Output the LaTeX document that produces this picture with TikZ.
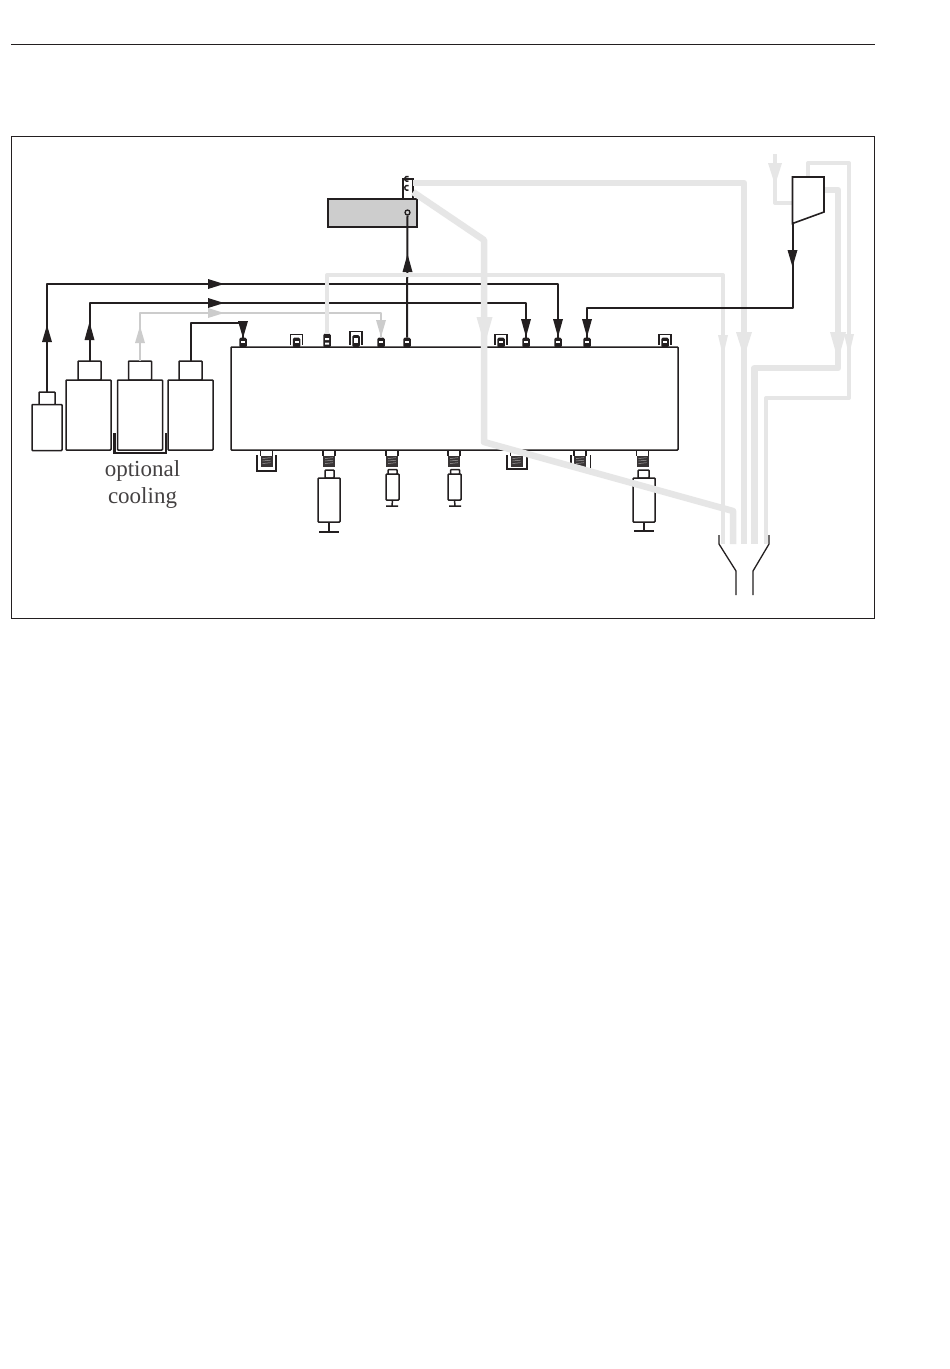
\documentclass[tikz,border=0pt]{standalone}
\usepackage{fontspec}
\setmainfont{Liberation Serif}
\definecolor{ink}{HTML}{231F20}
\definecolor{pale}{HTML}{E6E6E6}
\definecolor{midg}{HTML}{CCCCCC}
\definecolor{boxg}{HTML}{CDCDCD}
\tikzset{
  vessel/.style={draw=ink,line width=1.5pt,fill=white,rounded corners=.8pt,inner sep=0pt,outer sep=0pt},
  blk/.style={draw=ink,line width=2pt,line join=round},
  pipe/.style={draw=pale,line join=round},
  thinpipe/.style={pipe,line width=4pt},
  thickpipe/.style={pipe,line width=6.5pt},
  portblk/.style={fill=ink,rounded corners=1.5pt,minimum width=7.5pt,minimum height=10pt,inner sep=0pt,outer sep=0pt},
  springblk/.style={fill=ink!90!white,minimum width=12pt,minimum height=11pt,inner sep=0pt,outer sep=0pt},
  captiontext/.style={font=\fontsize{23}{23}\selectfont,text=ink!85!white,inner sep=0pt},
}
% tip x, tip y, direction (clockwise on the page), length, half width, colour
\newcommand{\arrowmark}[6]{\fill[#6,rotate around={-#3:(#1,#2)}] (#1,#2) -- ++(-#4,-#5) -- ++(0,2*#5) -- cycle;}
\newcommand{\topport}[2]{\node[portblk] (#1) at (#2,342.5) {};\fill[white] (#2-2,341) rectangle (#2+2,343);}
\newcommand{\ushape}[3]{\draw[ink,line width=1.6pt] (#1-#2,345) -- (#1-#2,#3) -- (#1+#2,#3) -- (#1+#2,345);}
\newcommand{\hatched}[1]{\foreach \d in {458.5,461,463.5}{\draw[white!60!ink,line width=.5pt] (#1-4,\d) -- (#1+4,\d-.8);}}
\newcommand{\botport}[2]{\draw[ink,line width=1.3pt] (#2-6,450) -- (#2-6,456) (#2+6,450) -- (#2+6,456);\node[springblk] (#1) at (#2,461) {};\hatched{#2}}
\begin{document}
\begin{tikzpicture}[x=1pt,y=-1pt]
\useasboundingbox (0,0) rectangle (950,1369);
\fill[white] (0,0) rectangle (950,1369);
\coordinate (ruleL) at (11,44);
\coordinate (ruleR) at (875,44);
\draw[ink,line width=1pt] (ruleL) -- (ruleR);
\node[draw=ink,line width=1pt,minimum width=863.5pt,minimum height=482pt,inner sep=0pt] (frame) at (443,377.5) {};

% main block
\node[vessel,minimum width=447pt,minimum height=103pt] (main) at (454.5,398.5) {};

% bottles
\node[vessel,minimum width=16pt,minimum height=13pt] (capA) at (47,398.5) {};
\node[vessel,minimum width=30pt,minimum height=46pt] (botA) at (47,427.5) {};
\node[vessel,minimum width=23pt,minimum height=19pt] (capB) at (89.5,370.5) {};
\node[vessel,minimum width=45pt,minimum height=70pt] (botB) at (88.5,415) {};
\node[vessel,minimum width=23pt,minimum height=19pt] (capC) at (140,370.5) {};
\node[vessel,minimum width=45pt,minimum height=70pt] (botC) at (140,415) {};
\node[vessel,minimum width=23pt,minimum height=19pt] (capD) at (190.5,370.5) {};
\node[vessel,minimum width=45pt,minimum height=70pt] (botD) at (190.5,415) {};
\draw[ink,line width=2.4pt] (114.5,433) -- (114.5,453) -- (166,453) -- (166,433);
\node[captiontext] (optA) at (142.5,471) {optional};
\node[captiontext] (optB) at (142.5,498) {cooling};

% top ports
\ushape{296.5}{6}{334.5}
\ushape{356}{6}{331.5}
\ushape{501}{6}{334.5}
\ushape{665}{6}{334.5}
\topport{pa}{243}
\topport{pb}{296.5}
\node[portblk,minimum height=14pt] (pc) at (327,340.5) {};\fill[white] (325,338) rectangle (329,340) (325,342.5) rectangle (329,344.5);
\node[portblk,minimum height=12pt] (pd) at (356,341) {};\fill[white] (354,338) rectangle (358,343);
\topport{pe}{381}
\topport{pf}{407}
\topport{pg}{501}
\topport{ph}{526}
\topport{pi}{558}
\topport{pj}{587}
\topport{pk}{665}

% bottom ports
\draw[ink,line width=1.6pt] (257,455) -- (257,471) -- (276,471) -- (276,455);
\botport{qa}{266.5}
\botport{qb}{329}
\botport{qc}{392}
\botport{qd}{454}
\draw[ink,line width=1.6pt] (507,455) -- (507,469) -- (527,469) -- (527,455);
\botport{qe}{516.5}
\draw[ink,line width=1.6pt] (571,455) -- (571,463) (590.5,455) -- (590.5,468);
\botport{qf}{580}
\botport{qg}{642.5}

% syringes
\node[vessel,minimum width=9pt,minimum height=8pt] (sa0) at (329.5,474) {};
\node[vessel,minimum width=22pt,minimum height=44pt] (sa) at (329,500) {};
\coordinate (sa1) at (329,532);
\draw[ink,line width=1.5pt] (sa.south) -- (sa1) (319,532) -- (339,532);
\node[vessel,minimum width=9pt,minimum height=5pt] (sb0) at (392.5,472) {};
\node[vessel,minimum width=13pt,minimum height=26pt] (sb) at (392.5,487) {};
\coordinate (sb1) at (392,506);
\draw[ink,line width=1.5pt] (sb.south) -- (sb1) (386,506) -- (398,506);
\node[vessel,minimum width=9pt,minimum height=5pt] (sc0) at (455,472) {};
\node[vessel,minimum width=13pt,minimum height=26pt] (sc) at (454.5,487) {};
\coordinate (sc1) at (455,506);
\draw[ink,line width=1.5pt] (sc.south) -- (sc1) (449,506) -- (461,506);
\node[vessel,minimum width=11pt,minimum height=8pt] (sd0) at (643.5,474) {};
\node[vessel,minimum width=22pt,minimum height=44pt] (sd) at (644,500) {};
\coordinate (sd1) at (644,531);
\draw[ink,line width=1.5pt] (sd.south) -- (sd1) (634,531) -- (654,531);

% detector
\node[draw=ink,line width=1.5pt,fill=white,minimum width=10pt,minimum height=20pt,inner sep=0pt] (det) at (408,189) {};
\node[draw=ink,line width=1.6pt,fill=boxg,minimum width=89pt,minimum height=28pt,inner sep=0pt] (grey) at (372.5,213) {};
\node[draw=ink,line width=1.3pt,circle,minimum size=5pt,inner sep=0pt,fill=boxg] (hole) at (407.5,212.5) {};

% free ends
\coordinate (wa) at (723,544);
\coordinate (wb) at (733,544);
\coordinate (wc) at (744,544);
\coordinate (wd) at (754.5,544);
\coordinate (we) at (766,544);
\coordinate (in) at (775,154);
\coordinate (detA) at (413,183);
\coordinate (detB) at (413,192);

% black lines under the pale ones
\draw[blk] (capA.north) -- (47,284) -| (pi.north);
\draw[blk] (capB.north) -- (89.5,303) -| (ph.north);
\draw[midg,line width=2.2pt,line join=round] (capC.north) -- (140,313) -| (pe.north);
\draw[blk] (capD.north) -- (190.5,323) -| (pa.north);
\draw[blk] (pf.north) -- (hole.south);
\arrowmark{47}{325}{-90}{17}{5}{ink}
\arrowmark{89.5}{322}{-90}{18}{5}{ink}
\arrowmark{140}{326}{-90}{17}{5}{midg}
\arrowmark{224}{284}{0}{16}{5}{ink}
\arrowmark{224}{303}{0}{16}{5}{ink}
\arrowmark{224}{313}{0}{16}{5}{midg}
\arrowmark{243}{338}{90}{17}{5}{ink}
\arrowmark{381}{337}{90}{17}{5}{midg}
\arrowmark{526}{337}{90}{18}{5}{ink}
\arrowmark{558}{337}{90}{18}{5}{ink}
\arrowmark{587}{337}{90}{18}{5}{ink}
\arrowmark{407.5}{254}{-90}{18}{5}{ink}

% pale lines
\draw[thinpipe] (pc.north) -- (327,275) -| (wa);
\draw[thickpipe] (detA) -- (744,183) -- (wc);
\draw[thickpipe] (detB) -- (484,240) -- (484,442) -- (733,511) -- (wb);
\draw[thickpipe] (824,190) -- (838,190) -- (838,368) -- (754.5,368) -- (wd);
\draw[thinpipe] (808,177) -- (808,163) -- (849,163) -- (849,398) -- (766,398) -- (we);
\draw[thinpipe] (in) -- (775,203) -- (792,203);
\arrowmark{775}{185}{90}{22}{7}{pale}
\arrowmark{484.5}{345}{90}{28}{8}{pale}
\arrowmark{723}{356}{90}{21}{5}{pale}
\arrowmark{744}{357}{90}{25}{8}{pale}
\arrowmark{838}{360}{90}{28}{8}{pale}
\arrowmark{849}{355}{90}{21}{5}{pale}

% fittings in the detector
\draw[ink,line width=1.4pt] (408.5,181) arc (60:300:2.5);
\draw[ink,line width=1.4pt] (408.5,190) arc (60:300:2.5);

% pump
\draw[ink,line width=1.6pt,fill=white,line join=miter] (792.5,177) coordinate (pu1) -- (824,177) -- (824,212) -- (792.5,223.5) coordinate (pu2) -- cycle;
\draw[blk] (pu2) -- (792.5,308) -| (pj.north);
\arrowmark{792.5}{267}{90}{17}{5}{ink}

% funnel
\draw[ink,line width=1.3pt] (719,535) -- (719,544) -- (736,571) -- (736,595);
\draw[ink,line width=1.3pt] (769,535) -- (769,544) -- (753,571) -- (753,595);
\end{tikzpicture}
\end{document}
